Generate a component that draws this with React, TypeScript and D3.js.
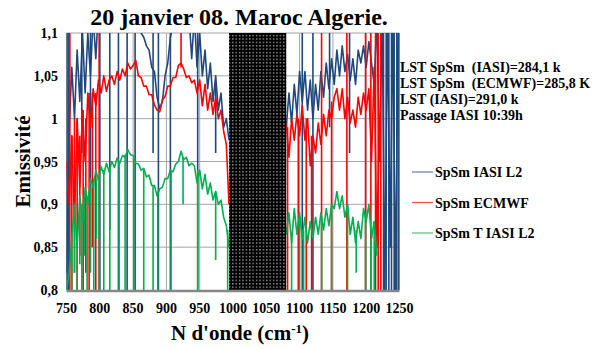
import * as d3 from 'd3'

// sampling grids (cm-1)
const wnLeft = d3.range(750, 995, 4)
const wnRight = d3.range(1080, 1249, 4)

// SpSm IASI L2 (blue)
const blueLeft = [
  0.82, 0.99, 1.06, 1.0, 1.08, 1.02, 1.1, 1.03, 1.1, 1.05,
  1.12, 1.07, 1.13, 1.13, 1.14, 1.13, 1.14, 1.13, 1.14, 1.13,
  1.14, 1.13, 1.14, 1.13, 1.14, 1.13, 1.12, 1.11, 1.1, 1.095,
  1.085, 1.08, 1.06, 1.055, 1.025, 1.012, 1.02, 1.05, 1.065, 1.095,
  1.11, 1.13, 1.14, 1.14, 1.13, 1.12, 1.12, 1.07, 1.12, 1.06,
  1.1, 1.05, 1.08, 1.035, 1.065, 1.02, 1.05, 1.01, 1.03, 0.99,
  1.0, 0.975,
]
const blueRight = [
  0.99, 1.03, 0.995, 1.04, 1.005, 1.055, 1.02, 1.055, 1.01, 1.045,
  1.0, 1.04, 1.01, 1.055, 1.025, 1.065, 1.035, 1.07, 1.04, 1.08,
  1.05, 1.085, 1.055, 1.075, 1.045, 1.07, 1.04, 1.08, 1.065, 1.085,
  1.06, 1.09, 1.065, 1.04, 1.12, 0.95, 1.12, 0.8, 1.12, 0.85,
  1.12, 0.8, 1.12,
]

// SpSm ECMWF (red)
const redLeft = [
  0.95, 0.9, 0.98, 0.88, 1.0, 0.92, 1.01, 0.95, 1.03, 0.99,
  1.035, 1.015, 1.045, 1.03, 1.05, 1.032, 1.045, 1.05, 1.04, 1.055,
  1.045, 1.058, 1.05, 1.065, 1.058, 1.062, 1.068, 1.05, 1.048, 1.038,
  1.038, 1.028, 1.028, 1.016, 1.01, 1.008, 1.022, 1.026, 1.038, 1.038,
  1.048, 1.048, 1.062, 1.065, 1.058, 1.048, 1.05, 1.042, 1.045, 1.03,
  1.045, 1.015, 1.04, 1.01, 1.03, 1.005, 1.025, 1.0, 1.01, 0.985,
  0.97, 0.9,
]
const redRight = [
  0.995, 0.955, 1.0, 0.975, 1.005, 0.98, 1.015, 0.975, 1.0, 0.945,
  0.98, 0.96, 0.995, 0.97, 1.005, 0.98, 1.01, 1.0, 1.025, 1.035,
  1.01, 1.035, 1.0, 1.025, 0.995, 1.01, 0.99, 1.025, 1.005, 1.03,
  1.01, 1.035, 0.95, 1.06, 0.85, 1.0, null, null, null, null,
  null, null, null,
]

// SpSm T IASI L2 (green)
const greenLeft = [
  0.8, 0.82, 0.86, 0.9, 0.85, 0.91, 0.88, 0.92, 0.9, 0.93,
  0.92, 0.94, 0.928, 0.944, 0.935, 0.948, 0.938, 0.95, 0.943, 0.954,
  0.948, 0.957, 0.955, 0.964, 0.958, 0.957, 0.948, 0.947, 0.94, 0.942,
  0.932, 0.934, 0.922, 0.922, 0.91, 0.918, 0.92, 0.93, 0.93, 0.94,
  0.938, 0.947, 0.95, 0.962, 0.952, 0.955, 0.945, 0.948, 0.945, 0.925,
  0.94, 0.918, 0.935, 0.912, 0.925, 0.905, 0.915, 0.9, 0.905, 0.885,
  0.875, 0.85,
]
const greenRight = [
  0.865, 0.89, 0.855, 0.895, 0.865, 0.89, 0.86, 0.885, 0.855, 0.88,
  0.86, 0.885, 0.865, 0.89, 0.87, 0.895, 0.875, 0.9, 0.895, 0.915,
  0.895, 0.91, 0.885, 0.9, 0.865, 0.885, 0.855, 0.88, 0.86, 0.895,
  0.88, 0.9, 0.86, 0.88, 0.84, null, null, null, null, null,
  null, null, null,
]

// absorption lines: [wavenumber, high, low]
const blueSpikes = [
  [750.5, 1.1, 0.8], [752.5, 1.1, 0.8], [773, 1.1, 0.96], [786, 1.1, 0.85], [800, 1.1, 0.8],
  [815, 1.1, 0.87], [828, 1.1, 0.8], [841, 1.1, 0.8], [853, 1.1, 0.8], [880, 1.1, 0.96],
  [888, 1.1, 0.8], [906, 1.1, 0.8], [947, 1.1, 0.8], [974, 1.04, 0.96], [1104, 1.1, 0.8],
  [1120, 1.1, 0.8], [1145, 1.1, 0.99], [1175, 1.1, 0.96], [1226, 1.1, 0.8], [1230, 1.1, 0.8],
  [1234, 1.1, 0.8], [1238, 1.1, 0.8], [1242, 1.1, 0.8], [1246, 1.1, 0.8], [1249, 1.1, 0.8],
]
const redSpikes = [
  [755, 1.1, 0.8], [758, 0.98, 0.8], [762, 1.0, 0.82], [766, 1.0, 0.8], [770, 0.98, 0.84],
  [775, 1.01, 0.8], [779, 1.0, 0.82], [784, 1.03, 0.8], [789, 1.03, 0.85], [794, 1.03, 0.8],
  [799, 1.1, 0.8], [922, 1.1, 1.06], [1082, 0.99, 0.8], [1098, 1.0, 0.8], [1110, 1.0, 0.8],
  [1118, 0.98, 0.8], [1133, 1.1, 0.8], [1148, 1.02, 0.8], [1171, 1.1, 0.8], [1199, 1.1, 0.8],
  [1207, 1.1, 0.8], [1214, 1.1, 0.8], [1218, 1.1, 0.8], [1222, 1.1, 0.8],
]
const greenSpikes = [
  [758, 0.86, 0.8], [762, 0.9, 0.82], [766, 0.87, 0.8], [770, 0.9, 0.83], [773, 0.9, 0.8],
  [777, 0.91, 0.84], [781, 0.91, 0.8], [786, 0.92, 0.82], [791, 0.93, 0.8], [795, 0.93, 0.86],
  [799, 0.93, 0.8], [806, 0.94, 0.8], [815, 0.94, 0.8], [829, 0.95, 0.8], [838, 0.958, 0.8],
  [851, 0.955, 0.8], [866, 0.94, 0.8], [880, 0.922, 0.8], [887, 0.915, 0.8], [907, 0.938, 0.8],
  [925, 0.955, 0.9], [947, 0.94, 0.8], [974, 0.915, 0.835], [992, 0.87, 0.8], [1088, 0.86, 0.8],
  [1100, 0.885, 0.8], [1106, 0.87, 0.8], [1133, 0.885, 0.8], [1148, 0.895, 0.8], [1172, 0.9, 0.8],
  [1185, 0.87, 0.82], [1199, 0.89, 0.8], [1207, 0.86, 0.8], [1212, 0.88, 0.8],
]

const maskedBand = [994, 1080]
const xTicks = [750, 800, 850, 900, 950, 1000, 1050, 1100, 1150, 1200, 1250]
const yTicks = [0.8, 0.85, 0.9, 0.95, 1, 1.05, 1.1]
const infoLines = [
  'LST SpSm  (IASI)=284,1 k',
  'LST SpSm  (ECMWF)=285,8 K',
  'LST (IASI)=291,0 k',
  'Passage IASI 10:39h',
]

const series = [
  { name: 'SpSm IASI L2', color: '#1f497d', left: blueLeft, right: blueRight, spikes: blueSpikes },
  { name: 'SpSm ECMWF', color: '#ff0000', left: redLeft, right: redRight, spikes: redSpikes },
  { name: 'SpSm T IASI L2', color: '#00b050', left: greenLeft, right: greenRight, spikes: greenSpikes },
]

const W = 594
const H = 349
const font = '"Liberation Serif", "Times New Roman", serif'

export default function App() {
  const x = d3.scaleLinear().domain([750, 1250]).range([66.5, 399.5])
  const y = d3.scaleLinear().domain([0.8, 1.1]).range([290, 33])

  const line = d3.line<[number, number | null]>()
    .defined(d => d[1] != null)
    .x(d => x(d[0]))
    .y(d => y(d[1] as number))

  const fmt = (v: number) => String(+v.toFixed(2)).replace('.', ',')

  return (
    <svg width={W} height={H} style={{ position: 'absolute', left: 0, top: 0, background: '#fff' }}
      fontFamily={font}>
      <defs>
        <clipPath id="plot">
          <rect x={x(750)} y={y(1.1)} width={x(1250) - x(750)} height={y(0.8) - y(1.1)} />
        </clipPath>
        <pattern id="dots" width="3.4" height="3.4" patternUnits="userSpaceOnUse">
          <rect width="3.4" height="3.4" fill="#000" />
          <rect x="1" y="1" width="1.2" height="1.2" fill="#d0d0d0" />
        </pattern>
      </defs>

      <text x={239} y={25} textAnchor="middle" fontSize={24} fontWeight="bold">
        20 janvier 08. Maroc Algerie.
      </text>

      {/* grid */}
      {yTicks.filter(t => t > 0.8).map(t => (
        <line key={'h' + t} x1={x(750)} x2={x(1250)} y1={y(t)} y2={y(t)} stroke="#a6a6a6" strokeWidth={1} />
      ))}
      {xTicks.map(t => (
        <line key={'v' + t} x1={x(t)} x2={x(t)} y1={y(1.1)} y2={y(0.8)} stroke="#a6a6a6" strokeWidth={1} />
      ))}

      <g clipPath="url(#plot)">
        {series.map(s => (
          <g key={s.name}>
            <path d={line(wnLeft.map((w, i) => [w, s.left[i]]) as any) || ''} fill="none"
              stroke={s.color} strokeWidth={1.6} strokeLinejoin="round" />
            <path d={line(wnRight.map((w, i) => [w, s.right[i]]) as any) || ''} fill="none"
              stroke={s.color} strokeWidth={1.6} strokeLinejoin="round" />
            {s.spikes.map(([w, hi, lo], i) => (
              <line key={i} x1={x(w)} x2={x(w)} y1={y(hi)} y2={y(lo)} stroke={s.color} strokeWidth={1.6} />
            ))}
          </g>
        ))}
        <rect x={x(maskedBand[0])} y={y(1.1)} width={x(maskedBand[1]) - x(maskedBand[0])}
          height={y(0.8) - y(1.1)} fill="url(#dots)" />
      </g>

      <line x1={x(750)} x2={x(1250)} y1={y(0.8) + 1} y2={y(0.8) + 1} stroke="#868686" strokeWidth={2.5} />

      {yTicks.map(t => (
        <text key={'yl' + t} x={58} y={y(t) + 5} textAnchor="end" fontSize={14} fontWeight="bold">{fmt(t)}</text>
      ))}
      {xTicks.map(t => (
        <text key={'xl' + t} x={x(t)} y={313} textAnchor="middle" fontSize={14} fontWeight="bold">{t}</text>
      ))}

      <text x={240} y={340} textAnchor="middle" fontSize={21} fontWeight="bold">
        N d'onde (cm<tspan dy={-7} fontSize={13}>-1</tspan><tspan dy={7}>)</tspan>
      </text>
      <text transform={`translate(30,${(y(1.1) + y(0.8)) / 2}) rotate(-90)`} textAnchor="middle"
        fontSize={21} fontWeight="bold">Emissivité</text>

      {infoLines.map((t, i) => (
        <text key={t} x={400} y={72 + i * 16} fontSize={14} fontWeight="bold" style={{ whiteSpace: 'pre' }}>{t}</text>
      ))}

      {series.map((s, i) => (
        <g key={'lg' + s.name}>
          <line x1={412} x2={433} y1={172 + i * 30.5} y2={172 + i * 30.5} stroke={s.color} strokeWidth={1.2} opacity={0.7} />
          <text x={435} y={177 + i * 30.5} fontSize={14} fontWeight="bold">{s.name}</text>
        </g>
      ))}
    </svg>
  )
}
